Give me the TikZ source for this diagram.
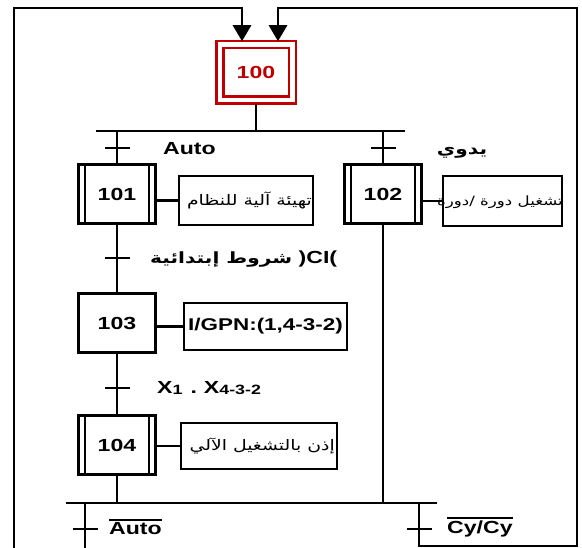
\documentclass[tikz,border=0pt]{standalone}
\usepackage{fontspec}
\setmainfont{Liberation Sans}[FakeStretch=1.32]
\newfontfamily\arabicfont[Script=Arabic,FakeStretch=1.3]{DejaVu Sans}
\TeXXeTstate=1
\usetikzlibrary{arrows.meta}
\definecolor{stepred}{RGB}{192,0,0}
\newcommand\myovl[1]{\leavevmode\vbox{\hrule height 1.6pt\kern 2pt\hbox{#1}}}
\newcommand\arw[1]{\mbox{\arabicfont\beginR #1\endR}}
\newcommand\subx[1]{\raisebox{-1.5pt}{\fontsize{13.5}{14}\selectfont #1}}
\begin{document}
\begin{tikzpicture}[x=1pt,y=-1pt,
  thinline/.style={line width=1.1pt},
  thickline/.style={line width=2.6pt},
  loopline/.style={line width=2.8pt},
  tickline/.style={line width=2.4pt},
  stepbox/.style={draw, line width=3pt, minimum width=77pt, minimum height=59pt, inner sep=0pt, outer sep=0pt, font=\bfseries\fontsize{17.5}{20}\selectfont},
  actbox/.style={draw, line width=1.1pt, inner sep=0pt, outer sep=0pt},
  lbl/.style={font=\bfseries\fontsize{17.5}{20}\selectfont, inner sep=0pt},
  artxt/.style={font=\fontsize{14.5}{17}\selectfont, inner sep=0pt, anchor=base east},
  arlbl/.style={font=\bfseries\fontsize{15.5}{18}\selectfont, inner sep=0pt, anchor=base west},
  tip/.style={-{Triangle[width=18pt,length=16pt]}}
]
\useasboundingbox (0,0) rectangle (582,548);

% initial step
\node[draw=stepred, line width=2.5pt, minimum width=79.5pt, minimum height=62.5pt, outer sep=0pt] (s100) at (256,72.5) {};
\node[draw=stepred, line width=2.5pt, minimum width=65.5pt, minimum height=48.5pt, outer sep=0pt, text=stepred, font=\bfseries\fontsize{17.5}{20}\selectfont] (s100i) at (256,72.5) {100};

% loop-back lines
\coordinate (lb) at (14,548);
\coordinate (a1) at (242,8);
\coordinate (a2) at (278,8);
\coordinate (rb) at (419,503);
\coordinate (rc) at (577,546);
\draw[loopline, tip] (lb) |- (a1) -- (a1 |- s100.north);
\draw[loopline, tip] (rb) |- (rc) |- (a2) -- (a2 |- s100.north);

% divergence
\coordinate (d1) at (96,131);
\coordinate (d2) at (405,131);
\draw[thickline] (d1) -- (d2);
\draw[thickline] (s100.south) -- (s100.south |- d1);

% steps
\node[stepbox] (s101) at (117,194) {101};
\node[stepbox] (s102) at (383,194) {102};
\node[stepbox] (s103) at (117,323) {103};
\node[stepbox] (s104) at (117,445.5) {104};
\foreach \s in {s101,s102,s104}{
  \draw[thinline] ([xshift=6.5pt]\s.north west) -- ([xshift=6.5pt]\s.south west);
  \draw[thinline] ([xshift=-6.5pt]\s.north east) -- ([xshift=-6.5pt]\s.south east);
}

% action boxes
\node[actbox, minimum width=134pt, minimum height=49pt] (a101) at (246,200.5) {};
\node[actbox, minimum width=119pt, minimum height=50pt] (a102) at (502.5,201) {};
\node[actbox, minimum width=163pt, minimum height=47pt] (a103) at (265.5,326.5) {};
\node[actbox, minimum width=156pt, minimum height=46pt] (a104) at (259,446) {};
\foreach \a in {a101,a102,a103,a104}{
  \draw[thickline] (\a.north west) -- (\a.north east);
  \draw[line width=2pt] (\a.south west) -- (\a.south east);
}
\draw[thickline] (s101.east |- a101.west) -- (a101.west);
\draw[thickline] (s102.east |- a102.west) -- (a102.west);
\draw[thickline] (s103.east |- a103.west) -- (a103.west);
\draw[thickline] (s104.east |- a104.west) -- (a104.west);

% action texts
\node[artxt] (t101) at ([xshift=-1pt,yshift=-5pt]a101.east) {\arw{تهيئة آلية للنظام}};
\node[artxt, font=\fontsize{12.8}{15}\selectfont] (t102) at ([xshift=1pt,yshift=-5pt]a102.east) {\arw{تشغيل دورة /دورة}};
\node[lbl, font=\bfseries\fontsize{17}{20}\selectfont, anchor=west] (t103) at ([xshift=4pt]a103.west) {I/GPN:(1,4-3-2)};
\node[artxt] (t104) at ([xshift=-2pt,yshift=-5pt]a104.east) {\arw{إذن بالتشغيل الآلي}};

% branch lines
\coordinate (c1) at (66,503);
\coordinate (c2) at (437,503);
\draw[thinline] (s101.north |- d1) -- (s101.north);
\draw[thinline] (s102.north |- d1) -- (s102.north);
\draw[thinline] (s101.south) -- (s103.north);
\draw[thinline] (s103.south) -- (s104.north);
\draw[thinline] (s104.south) -- (s104.south |- c1);
\draw[thinline] (s102.south) -- (s102.south |- c1);
\draw[thickline] (c1) -- (c2);
\coordinate (lb2) at (85,503);
\coordinate (lb3) at (85,548);
\draw[loopline] (lb2) -- (lb3);

% transitions
\coordinate (tr1) at (117,148);
\coordinate (tr2) at (383,148);
\coordinate (tr3) at (117,258);
\coordinate (tr4) at (117,388);
\coordinate (tr5) at (85,529);
\coordinate (tr6) at (419,529);
\foreach \t in {tr1,tr2,tr3,tr4,tr5,tr6}{
  \draw[tickline] ([xshift=-12.5pt]\t) -- ([xshift=12.5pt]\t);
}

% transition labels
\node[lbl, anchor=west] (l1) at (163,149) {Auto};
\node[arlbl, anchor=base] (l2) at (462,155) {\arw{يدوي}};
\node[arlbl] (l3a) at (150,264) {\arw{شروط إبتدائية}};
\node[lbl, anchor=base west] (l3c) at ([xshift=6pt]l3a.base east) {)CI(};
\node[lbl, anchor=west] (l4) at (157,388) {X\subx{1}\hspace{8pt}.\hspace{7pt}X\subx{4-3-2}};
\node[lbl, anchor=west] (l5) at (109,527) {\myovl{Auto}};
\node[lbl, anchor=west] (l6) at (447,527) {\myovl{Cy/Cy}};
\end{tikzpicture}
\end{document}
